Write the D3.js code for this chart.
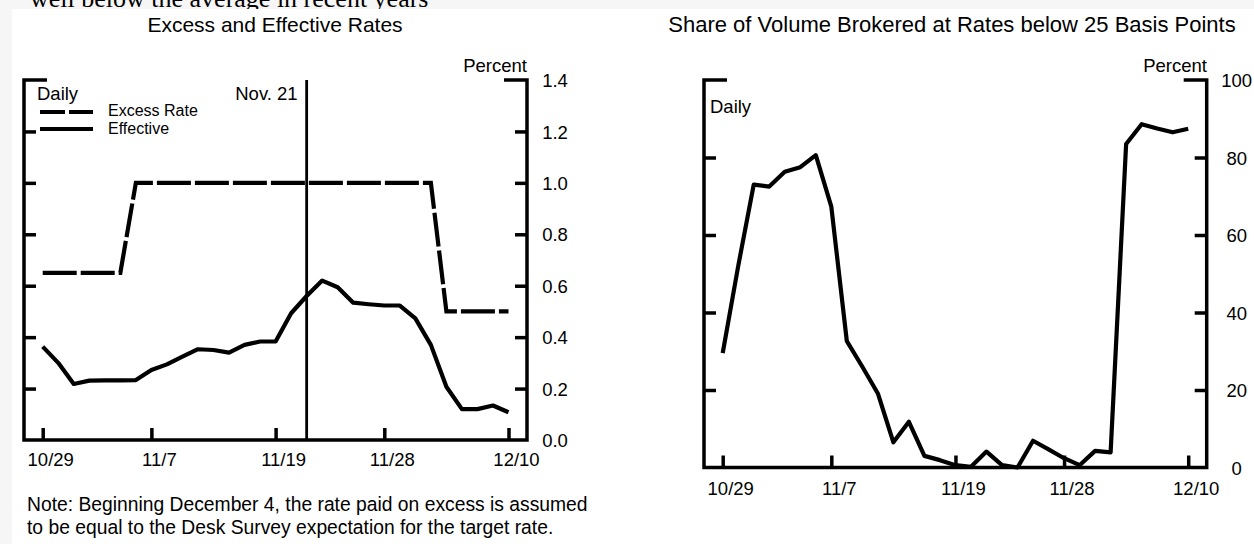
<!DOCTYPE html>
<html><head><meta charset="utf-8">
<script src="https://cdn.jsdelivr.net/npm/d3@7"></script>
<style>
html,body{margin:0;padding:0;background:#f6f6f6;}
svg{display:block;}
text{font-family:"Liberation Sans",Arial,sans-serif;fill:#000;}
</style></head>
<body>
<svg id="c" width="1254" height="544"></svg>
<script>
// ---- data ----
const dates = ["10/29","10/30","10/31","11/3","11/4","11/5","11/6","11/7","11/10","11/11","11/12","11/13","11/14","11/17","11/18","11/19","11/20","11/21","11/24","11/25","11/26","11/27","11/28","12/1","12/2","12/3","12/4","12/5","12/8","12/9","12/10"];
const xTickLabels = ["10/29","11/7","11/19","11/28","12/10"];
const excessRate = [0.65,0.65,0.65,0.65,0.65,0.65,1.0,1.0,1.0,1.0,1.0,1.0,1.0,1.0,1.0,1.0,1.0,1.0,1.0,1.0,1.0,1.0,1.0,1.0,1.0,1.0,0.5,0.5,0.5,0.5,0.5];
const effectiveRate = [0.363,0.30,0.218,0.231,0.232,0.232,0.233,0.272,0.294,0.324,0.353,0.35,0.34,0.37,0.383,0.383,0.493,0.56,0.62,0.594,0.534,0.528,0.523,0.523,0.473,0.37,0.207,0.12,0.12,0.134,0.108];
const shareBelow25 = [29.5,52,73,72.5,76.3,77.5,80.6,67.3,32.6,26,19.1,6.5,11.8,3,1.9,0.6,0.2,4.1,0.6,0,6.9,4.7,2.4,0.6,4.3,3.9,83.5,88.6,87.5,86.5,87.4];
const leftTicks = [0.0,0.2,0.4,0.6,0.8,1.0,1.2,1.4];
const rightTicks = [0,20,40,60,80,100];
const eventDate = "11/21";

const svg = d3.select("#c");
// clipped line of page text above the charts
svg.append("text").attr("x",30).attr("y",7).style("font-family","Liberation Serif, Times New Roman, serif").style("font-size","26px").text("well below the average in recent years");
svg.append("rect").attr("x",12).attr("y",9).attr("width",1242).attr("height",535).attr("fill","#fff");

const AX = 3.5, LW = 4.2;

function panel(o){
  const g = svg.append("g");
  const x = d3.scalePoint().domain(dates).range([o.x0+18.7, o.x1-18.5]);
  const y = d3.scaleLinear().domain(o.yDomain).range([o.yBot, o.yTop]);
  const la = g.append("g").attr("transform",`translate(${o.x0},0)`)
    .call(d3.axisRight(y).tickValues(o.ticks.slice(1,-1)).tickSize(12).tickSizeOuter(0).tickFormat(""));
  const ra = g.append("g").attr("transform",`translate(${o.x1},0)`)
    .call(d3.axisLeft(y).tickValues(o.ticks).tickSize(12).tickSizeOuter(0).tickFormat(o.fmt));
  ra.selectAll(".tick line").filter(d=>d===o.ticks[0]||d===o.ticks[o.ticks.length-1]).remove();
  ra.selectAll("text").attr("x",o.lblOff).attr("text-anchor","middle").attr("dy","0.36em").style("font-size","18.5px").style("font-family","Liberation Sans, Arial, sans-serif");
  const ba = g.append("g").attr("transform",`translate(0,${o.yBot})`)
    .call(d3.axisBottom(x).tickValues(xTickLabels).tickSize(-12).tickSizeOuter(0).tickPadding(o.xPad));
  ba.selectAll("text").attr("dx",7.5).attr("dy","0.71em").style("font-size","18.5px").style("font-family","Liberation Sans, Arial, sans-serif");
  [la,ra,ba].forEach(a=>{a.select(".domain").remove(); a.selectAll(".tick line").attr("stroke","#000").attr("stroke-width",AX);});
  const fr = g.append("g").attr("stroke","#000").attr("stroke-width",AX).attr("fill","none");
  fr.append("path").attr("d",`M${o.x0+23},${o.yTop}H${o.x0}V${o.yBot}H${o.x1}V${o.yTop}H${o.x1-23}`).attr("stroke-linejoin","miter");
  return {g,x,y};
}

// ---- Left panel ----
const L = panel({x0:24,x1:527,yTop:80,yBot:440,yDomain:[0,1.4],ticks:leftTicks,fmt:d3.format(".1f"),lblOff:28,xPad:13});
L.g.append("line").attr("x1",L.x(eventDate)).attr("x2",L.x(eventDate)).attr("y1",L.y(1.4)).attr("y2",L.y(0)).attr("stroke","#000").attr("stroke-width",2.8);
L.g.append("text").attr("x",L.x(eventDate)-9).attr("y",100).attr("text-anchor","end").style("font-size","18.5px").text("Nov. 21");
const lineL = d3.line().x((d,i)=>L.x(dates[i])).y(d=>L.y(d));
L.g.append("path").attr("d",lineL(excessRate)).attr("fill","none").attr("stroke","#000").attr("stroke-width",LW).attr("stroke-dasharray","34,4");
L.g.append("path").attr("d",lineL(effectiveRate)).attr("fill","none").attr("stroke","#000").attr("stroke-width",LW).attr("stroke-linejoin","round");
L.g.append("text").attr("x",37).attr("y",100).style("font-size","18.5px").text("Daily");
// legend
L.g.append("line").attr("x1",40).attr("x2",93).attr("y1",112).attr("y2",112).attr("stroke","#000").attr("stroke-width",LW).attr("stroke-dasharray","25,4");
L.g.append("line").attr("x1",40).attr("x2",93).attr("y1",129).attr("y2",129).attr("stroke","#000").attr("stroke-width",LW);
L.g.append("text").attr("x",108).attr("y",115.5).style("font-size","16px").text("Excess Rate");
L.g.append("text").attr("x",108).attr("y",134).style("font-size","16px").text("Effective");
svg.append("text").attr("x",275).attr("y",32).attr("text-anchor","middle").style("font-size","21px").text("Excess and Effective Rates");
svg.append("text").attr("x",527).attr("y",72).attr("text-anchor","end").style("font-size","18.5px").text("Percent");
svg.append("text").attr("x",27).attr("y",511).style("font-size","19.3px").text("Note: Beginning December 4, the rate paid on excess is assumed");
svg.append("text").attr("x",27).attr("y",534).style("font-size","19.3px").text("to be equal to the Desk Survey expectation for the target rate.");

// ---- Right panel ----
const R = panel({x0:704,x1:1206.7,yTop:80,yBot:467.5,yDomain:[0,100],ticks:rightTicks,fmt:d3.format("d"),lblOff:30,xPad:14});
const lineR = d3.line().x((d,i)=>R.x(dates[i])).y(d=>R.y(d));
R.g.append("path").attr("d",lineR(shareBelow25)).attr("fill","none").attr("stroke","#000").attr("stroke-width",LW).attr("stroke-linejoin","round");
R.g.append("text").attr("x",710).attr("y",113).style("font-size","18.5px").text("Daily");
svg.append("text").attr("x",952).attr("y",32).attr("text-anchor","middle").style("font-size","22px").text("Share of Volume Brokered at Rates below 25 Basis Points");
svg.append("text").attr("x",1207).attr("y",72).attr("text-anchor","end").style("font-size","18.5px").text("Percent");
</script>
</body></html>
